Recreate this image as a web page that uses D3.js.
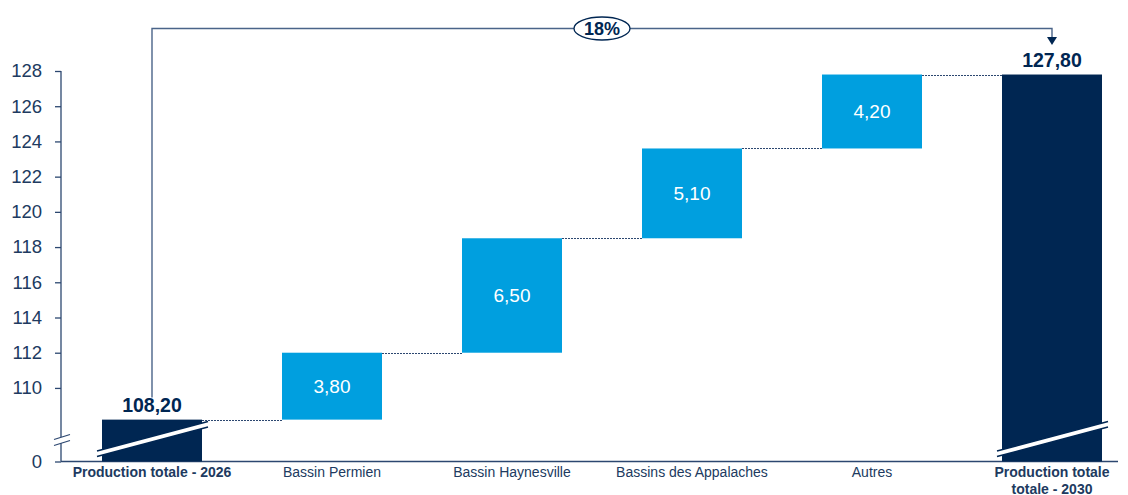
<!DOCTYPE html>
<html>
<head>
<meta charset="utf-8">
<script src="https://cdn.jsdelivr.net/npm/d3@7"></script>
<style>
  body { margin: 0; background: #fff; }
  svg { display: block; font-family: "Liberation Sans", Arial, sans-serif; }
</style>
</head>
<body>
<svg id="chart" width="1128" height="495"></svg>
<script>
// data
const categories = ["Production totale - 2026", "Bassin Permien", "Bassin Haynesville",
  "Bassins des Appalaches", "Autres", "Production totale\ntotale - 2030"];
const values = [108.2, 3.8, 6.5, 5.1, 4.2, 127.8];
const kinds = ["total", "delta", "delta", "delta", "delta", "total"];
const yTicks = [0, 110, 112, 114, 116, 118, 120, 122, 124, 126, 128];
const growthLabel = "18%";

const navy = "#002652";
const blue = "#009fdf";
const textCol = "#203a60";
const fmt = v => v.toFixed(2).replace(".", ",");

const svg = d3.select("#chart");

// broken y scale: 0 sits at the baseline, then jumps to ~106
const y = d3.scaleLinear()
  .domain([0, 105.85, 128])
  .range([461.5, 461, 71]);

const x = d3.scaleBand()
  .domain(categories)
  .range([57, 1147])
  .paddingInner(4 / 9)
  .paddingOuter(0.25);

// running totals for the waterfall
let run = 0;
const bars = categories.map((c, i) => {
  let lo, hi;
  if (kinds[i] === "total") { lo = 0; hi = values[i]; run = values[i]; }
  else { lo = run; hi = run + values[i]; run = hi; }
  return { cat: c, v: values[i], kind: kinds[i], lo, hi };
});

// axis
const axisX = 61;
const yAxis = d3.axisLeft(y).tickValues(yTicks).tickSize(6).tickPadding(13).tickFormat(d3.format("d"));
const ga = svg.append("g").attr("transform", `translate(${axisX},0)`).call(yAxis);
ga.select(".domain").attr("d", `M0,${y(128)}V${y(0)}`).attr("stroke", "#2c4770").attr("stroke-width", 1.3);
ga.selectAll(".tick line").attr("stroke", "#2c4770").attr("stroke-width", 1.3);
ga.selectAll(".tick text").attr("fill", textCol).style("font-size", "18.5px").style("font-family", "Liberation Sans, Arial, sans-serif");

// baseline
svg.append("line")
  .attr("x1", axisX).attr("x2", 1118)
  .attr("y1", y(0)).attr("y2", y(0))
  .attr("stroke", "#2c4770").attr("stroke-width", 1.3);

// axis break marks
const brk = svg.append("g");
brk.append("path")
  .attr("d", `M${axisX - 7},${439.5}L${axisX + 9},${434.5}L${axisX + 9},${440.5}L${axisX - 7},${445.5}Z`)
  .attr("fill", "#fff");
[439.5, 445.5].forEach(yy => {
  brk.append("line")
    .attr("x1", axisX - 7).attr("y1", yy)
    .attr("x2", axisX + 9).attr("y2", yy - 5)
    .attr("stroke", "#2c4770").attr("stroke-width", 1.3);
});

// connectors (dotted)
for (let i = 0; i < bars.length - 1; i++) {
  const yy = Math.round(y(bars[i].hi)) + 0.5;
  svg.append("line")
    .attr("x1", x(bars[i].cat) + x.bandwidth())
    .attr("x2", x(bars[i + 1].cat))
    .attr("y1", yy).attr("y2", yy)
    .attr("stroke", "#2c4770").attr("stroke-width", 1)
    .attr("stroke-dasharray", "2,1");
}

// bars
svg.append("g").selectAll("rect")
  .data(bars)
  .join("rect")
  .attr("x", d => x(d.cat))
  .attr("width", x.bandwidth())
  .attr("y", d => y(d.hi))
  .attr("height", d => y(d.lo) - y(d.hi))
  .attr("fill", d => d.kind === "total" ? navy : blue);

// slash across total bars
bars.filter(d => d.kind === "total").forEach(d => {
  const x0 = x(d.cat) - 5, x1 = x(d.cat) + x.bandwidth() + 6;
  const g = svg.append("g");
  g.append("path")
    .attr("d", `M${x0},${451}L${x1},${421.5}L${x1},${427}L${x0},${456.5}Z`)
    .attr("fill", "#fff");
  [451, 456.5].forEach(yy => {
    g.append("line")
      .attr("x1", x0).attr("y1", yy)
      .attr("x2", x1).attr("y2", yy - 29.5)
      .attr("stroke", navy).attr("stroke-width", 1.4);
  });
});

// value labels
svg.append("g").selectAll("text")
  .data(bars)
  .join("text")
  .attr("x", d => x(d.cat) + x.bandwidth() / 2)
  .attr("y", d => d.kind === "total" ? y(d.hi) - 8 : (y(d.lo) + y(d.hi)) / 2 + 7)
  .attr("text-anchor", "middle")
  .attr("fill", d => d.kind === "total" ? navy : "#fff")
  .style("font-size", d => d.kind === "total" ? "19.5px" : "19px")
  .style("font-weight", d => d.kind === "total" ? "bold" : "normal")
  .text(d => fmt(d.v));

// category labels
const cl = svg.append("g").selectAll("text")
  .data(bars)
  .join("text")
  .attr("x", d => x(d.cat) + x.bandwidth() / 2)
  .attr("y", 477)
  .attr("text-anchor", "middle")
  .attr("fill", textCol)
  .style("font-size", "14px")
  .style("font-weight", d => d.kind === "total" ? "bold" : "normal");
cl.each(function(d) {
  d.cat.split("\n").forEach((line, k) => {
    d3.select(this).append("tspan")
      .attr("x", x(d.cat) + x.bandwidth() / 2)
      .attr("dy", k === 0 ? 0 : 16.5)
      .text(line);
  });
});

// growth bracket
const first = bars[0], last = bars[bars.length - 1];
const bx0 = x(first.cat) + x.bandwidth() / 2;
const bx1 = x(last.cat) + x.bandwidth() / 2;
const by = 28.5;
svg.append("path")
  .attr("d", `M${bx0},${y(first.hi) - 22}V${by}H${bx1}V${37}`)
  .attr("fill", "none")
  .attr("stroke", "#4a6489").attr("stroke-width", 1.4);
svg.append("path")
  .attr("d", `M${bx1 - 5},${37}L${bx1 + 5},${37}L${bx1},${45}Z`)
  .attr("fill", navy);
const ex = (bx0 + bx1) / 2;
svg.append("ellipse")
  .attr("cx", ex).attr("cy", by)
  .attr("rx", 28).attr("ry", 11.5)
  .attr("fill", "#fff")
  .attr("stroke", navy).attr("stroke-width", 1.3);
svg.append("text")
  .attr("x", ex).attr("y", by + 6.5)
  .attr("text-anchor", "middle")
  .attr("fill", navy)
  .style("font-size", "18px")
  .style("font-weight", "bold")
  .text(growthLabel);
</script>
</body>
</html>
